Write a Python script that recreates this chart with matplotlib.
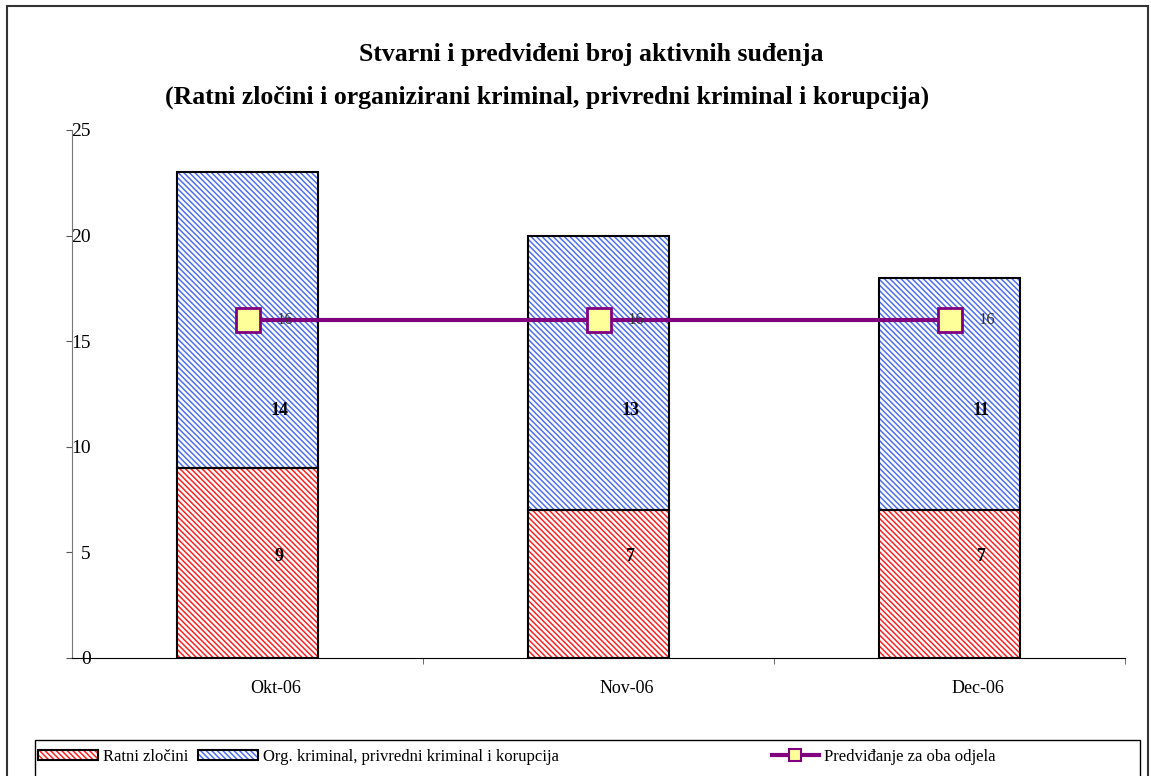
import matplotlib
matplotlib.use('Agg')
import matplotlib.pyplot as plt
from matplotlib.patches import Patch, Rectangle
from matplotlib.lines import Line2D
from matplotlib.legend_handler import HandlerTuple
from matplotlib.transforms import ScaledTranslation

months = ['Okt-06', 'Nov-06', 'Dec-06']
ratni = [9, 7, 7]
org = [14, 13, 11]
predvidjanje = [16, 16, 16]
yticks = [0, 5, 10, 15, 20, 25]

plt.rcParams['font.family'] = ['Liberation Serif', 'DejaVu Serif']
plt.rcParams['hatch.linewidth'] = 1.1

W, H = 1151, 776
fig = plt.figure(figsize=(W / 100, H / 100), dpi=100)
ax = fig.add_axes([72 / W, 118 / H, 1053 / W, 528 / H])

red = '#ff2222'
blue = '#4f70f5'
purple = '#800080'
hatch = '\\' * 6
bw = 0.4
x = list(range(len(months)))

# hatched fills first, then black outlines on top
ax.bar(x, ratni, bw, color='white', edgecolor=red, hatch=hatch, linewidth=0)
ax.bar(x, org, bw, bottom=ratni, color='white', edgecolor=blue, hatch=hatch, linewidth=0)
ax.bar(x, ratni, bw, fill=False, edgecolor='black', linewidth=1.5)
ax.bar(x, org, bw, bottom=ratni, fill=False, edgecolor='black', linewidth=1.5)

ax.plot(x, predvidjanje, color=purple, lw=3, marker='s', ms=17,
        mfc='#ffff99', mec=purple, mew=2, zorder=5)

for i in x:
    ax.text(i + 0.09, 4.8, str(ratni[i]), ha='center', va='center',
            fontsize=13, fontweight='bold')
    ax.text(i + 0.09, 11.7, str(org[i]), ha='center', va='center',
            fontsize=13, fontweight='bold')
    ax.text(i + 0.107, predvidjanje[i], str(predvidjanje[i]), ha='center',
            va='center', fontsize=12, color='#333333', zorder=6)

ax.set_xlim(-0.5, 2.5)
ax.set_ylim(0, 25)
ax.set_yticks(yticks)
ax.set_xticks(x)
ax.set_xticklabels(months, fontsize=13)
ax.set_xticks([0.5, 1.5, 2.5], minor=True)
ax.tick_params(axis='x', which='major', length=0, pad=16)
ax.tick_params(axis='x', which='minor', length=4, color='#555555')
ax.tick_params(axis='y', length=4.5, color='#555555', pad=-18, labelsize=14)
for lab in ax.get_yticklabels():
    lab.set_horizontalalignment('right')
# category labels sit a bit right of the bar centres
shift = ScaledTranslation(28 / 100, 0, fig.dpi_scale_trans)
for lab in ax.get_xticklabels():
    lab.set_transform(lab.get_transform() + shift)

ax.spines['top'].set_visible(False)
ax.spines['right'].set_visible(False)
ax.spines['left'].set_color('#777777')
ax.spines['bottom'].set_color('black')

fig.text(591 / W, 1 - 55 / H, 'Stvarni i predviđeni broj aktivnih suđenja',
         ha='center', va='center', fontsize=18.5, fontweight='bold')
fig.text(547 / W, 1 - 97 / H,
         '(Ratni zločini i organizirani kriminal, privredni kriminal i korupcija)',
         ha='center', va='center', fontsize=18.5, fontweight='bold')

# legend
h_red = (Patch(facecolor='white', edgecolor=red, hatch=hatch, linewidth=0),
         Patch(fill=False, edgecolor='black', linewidth=1.5))
h_blue = (Patch(facecolor='white', edgecolor=blue, hatch=hatch, linewidth=0),
          Patch(fill=False, edgecolor='black', linewidth=1.5))
fig.legend([h_red, h_blue],
           ['Ratni zločini', 'Org. kriminal, privredni kriminal i korupcija'],
           handler_map={tuple: HandlerTuple(ndivide=1, pad=0)},
           loc='center left', bbox_to_anchor=(38 / W, 1 - 757 / H), ncol=2,
           frameon=False, fontsize=12, handlelength=3.6, handleheight=0.6,
           handletextpad=0.3, columnspacing=0.6, borderpad=0, borderaxespad=0)
fig.legend([Line2D([], [], color=purple, lw=3, marker='s', ms=8,
                   mfc='#ffff99', mec=purple, mew=1.5)],
           ['Predviđanje za oba odjela'],
           loc='center left', bbox_to_anchor=(772 / W, 1 - 757 / H),
           frameon=False, fontsize=12, handlelength=2.8, handletextpad=0.3,
           borderpad=0, borderaxespad=0)

fig.add_artist(Rectangle((35 / W, -0.01), (1140 - 35) / W, 0.01 + 36 / H,
                         transform=fig.transFigure, fill=False,
                         edgecolor='black', linewidth=1))
fig.add_artist(Rectangle((7 / W, -0.01), (1148 - 7) / W, 1.01 - 6 / H,
                         transform=fig.transFigure, fill=False,
                         edgecolor='#333333', linewidth=1.5))

fig.savefig('out.png', dpi=100)
